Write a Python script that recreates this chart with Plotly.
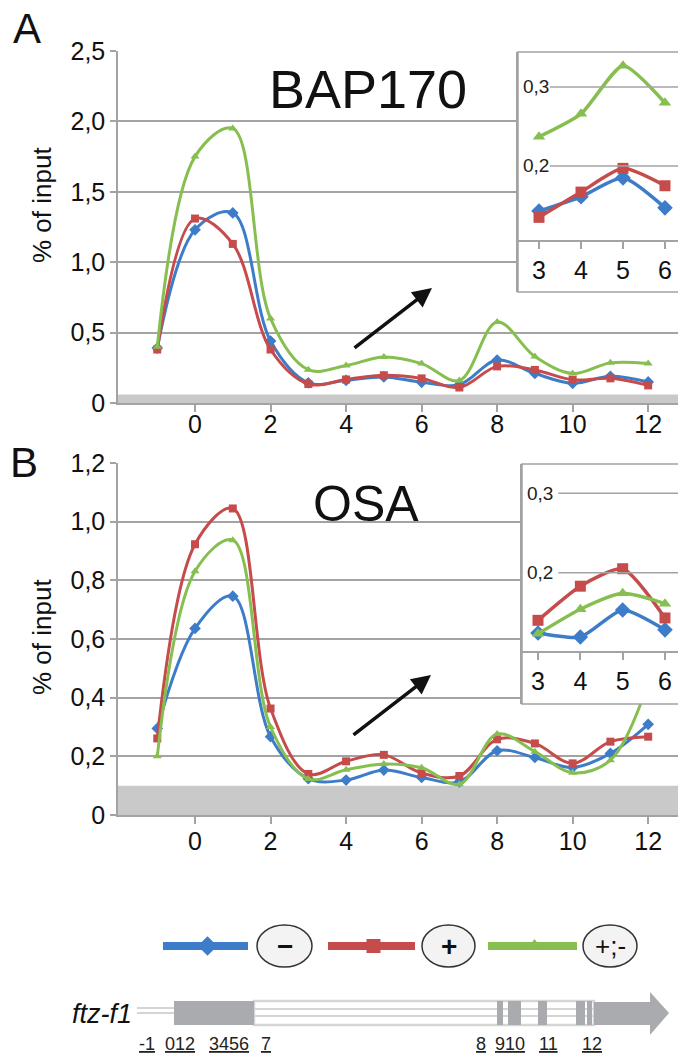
import plotly.graph_objects as go

# ---------------- data ----------------
positions = [-1, 0, 1, 2, 3, 4, 5, 6, 7, 8, 9, 10, 11, 12]

bap_minus = [0.39, 1.23, 1.35, 0.44, 0.143, 0.161, 0.185, 0.147, 0.13, 0.305, 0.21, 0.14, 0.19, 0.15]
bap_plus = [0.38, 1.31, 1.13, 0.38, 0.135, 0.167, 0.197, 0.175, 0.11, 0.26, 0.235, 0.165, 0.175, 0.125]
bap_both = [0.40, 1.75, 1.95, 0.60, 0.237, 0.266, 0.327, 0.28, 0.16, 0.575, 0.33, 0.21, 0.285, 0.28]

osa_minus = [0.295, 0.636, 0.746, 0.267, 0.124, 0.119, 0.153, 0.128, 0.113, 0.219, 0.196, 0.162, 0.21, 0.309]
osa_plus = [0.261, 0.923, 1.045, 0.363, 0.14, 0.183, 0.205, 0.143, 0.133, 0.258, 0.244, 0.176, 0.25, 0.267]
osa_both = [0.20, 0.831, 0.937, 0.30, 0.123, 0.154, 0.174, 0.161, 0.105, 0.276, 0.216, 0.144, 0.187, 0.45]

inset_positions = [3, 4, 5, 6]

bap_ticks = [0, 0.5, 1.0, 1.5, 2.0, 2.5]
bap_ticktext = ["0", "0,5", "1,0", "1,5", "2,0", "2,5"]
osa_ticks = [0, 0.2, 0.4, 0.6, 0.8, 1.0, 1.2]
osa_ticktext = ["0", "0,2", "0,4", "0,6", "0,8", "1,0", "1,2"]
x_ticks = [0, 2, 4, 6, 8, 10, 12]
inset_yticks = [0.2, 0.3]
inset_yticktext = ["0,2", "0,3"]

bap_background = 0.06
osa_background = 0.10

legend_labels = ["\u2212", "+", "+;-"]

# gene model (pixel coordinates of the drawing)
exon_starts = [174, 497, 508, 538, 576, 587]
exon_ends = [254, 503, 521, 547, 585, 592]
arrow_start, arrow_neck, arrow_tip = 594, 650, 669
primer_labels = ["-1", "012", "3456", "7", "8", "9", "10", "11", "12"]
primer_x = [147, 180, 229, 266, 481, 500, 515, 548, 592]

# ---------------- styling ----------------
W, H = 678, 1061
BLUE, RED, GREEN = "#3d7cc9", "#c64b4b", "#86bf50"
GRID = "#a3a3a3"
BAND = "#c9c9c9"
FONT = "Liberation Sans, Arial, sans-serif"


def px(x):
    return x / W


def py(y):
    return 1 - y / H


series_styles = [
    (BLUE, "diamond", 9),
    (RED, "square", 8),
    (GREEN, "triangle-up", 8),
]

fig = go.Figure()

panels = [
    ("x", "y", "x2", "y2", [bap_minus, bap_plus, bap_both]),
    ("x3", "y3", "x4", "y4", [osa_minus, osa_plus, osa_both]),
]

for xa, ya, xi, yi, series in panels:
    for vals, (col, sym, ms) in zip(series, series_styles):
        fig.add_trace(go.Scatter(
            x=positions, y=vals, xaxis=xa, yaxis=ya, mode="lines+markers",
            line=dict(color=col, width=3, shape="spline", smoothing=1.0),
            marker=dict(symbol=sym, size=ms, color=col),
            showlegend=False, hoverinfo="skip"))
    for vals, (col, sym, ms) in zip(series, series_styles):
        sub = [vals[positions.index(p)] for p in inset_positions]
        fig.add_trace(go.Scatter(
            x=inset_positions, y=sub, xaxis=xi, yaxis=yi, mode="lines+markers",
            line=dict(color=col, width=3.5, shape="spline", smoothing=0.6),
            marker=dict(symbol=sym, size=ms + 3, color=col),
            showlegend=False, hoverinfo="skip"))

# legend samples (auxiliary axis in pixel units)
legend_lines = [(163, 248), (328, 415), (488, 577)]
legend_ellipses = [(257, 312), (422, 475), (583, 637)]
LEG_Y = 946
for (x0, x1), (col, sym, ms) in zip(legend_lines, series_styles):
    fig.add_trace(go.Scatter(
        x=[x0, x1], y=[LEG_Y, LEG_Y], xaxis="x5", yaxis="y5", mode="lines",
        line=dict(color=col, width=8), showlegend=False, hoverinfo="skip"))
    fig.add_trace(go.Scatter(
        x=[(x0 + x1) / 2 + 2], y=[LEG_Y], xaxis="x5", yaxis="y5", mode="markers",
        marker=dict(symbol=sym, size=ms + 6, color=col),
        showlegend=False, hoverinfo="skip"))

axis_common = dict(showline=True, linecolor=GRID, linewidth=1.5, zeroline=False,
                   ticks="outside", tickcolor=GRID, tickwidth=1.5, automargin=False,
                   tickfont=dict(family=FONT, size=25, color="#111"))

lay = dict(
    width=W, height=H, margin=dict(l=0, r=0, t=0, b=0, pad=0, autoexpand=False),
    paper_bgcolor="white", plot_bgcolor="white",
    font=dict(family=FONT, color="#111"),
    xaxis=dict(domain=[px(118), 1], range=[-2.04, 12.79], tickvals=x_ticks,
               ticklen=7, showgrid=False, anchor="y", ticklabelstandoff=-9, **axis_common),
    yaxis=dict(domain=[py(403), py(51)], range=[0, 2.5], tickvals=bap_ticks,
               ticktext=bap_ticktext, ticklen=6, showgrid=True, gridcolor=GRID,
               gridwidth=1.5, anchor="x", **axis_common),
    xaxis3=dict(domain=[px(118), 1], range=[-2.04, 12.79], tickvals=x_ticks,
                ticklen=7, showgrid=False, anchor="y3", ticklabelstandoff=-4, **axis_common),
    yaxis3=dict(domain=[py(815), py(463)], range=[0, 1.2], tickvals=osa_ticks,
                ticktext=osa_ticktext, ticklen=6, showgrid=True, gridcolor=GRID,
                gridwidth=1.5, anchor="x3", **axis_common),
    xaxis2=dict(domain=[px(518), 1], range=[2.5, 6.31], tickvals=inset_positions,
                ticklen=7, showgrid=False, anchor="free", position=py(241),
                **axis_common),
    yaxis2=dict(domain=[py(292), py(52)], range=[0.0405, 0.3443], showticklabels=False,
                ticks="", showline=True, linecolor=GRID, linewidth=1.5, showgrid=False,
                zeroline=False, anchor="x2", automargin=False),
    xaxis4=dict(domain=[px(522), 1], range=[2.622, 6.307], tickvals=inset_positions,
                ticklen=7, showgrid=False, anchor="free", position=py(652),
                **axis_common),
    yaxis4=dict(domain=[py(704), py(464)], range=[0.0346, 0.3369], showticklabels=False,
                ticks="", showline=True, linecolor=GRID, linewidth=1.5, showgrid=False,
                zeroline=False, anchor="x4", automargin=False),
    xaxis5=dict(domain=[0, 1], range=[0, W], visible=False, anchor="y5", automargin=False),
    yaxis5=dict(domain=[0, py(880)], range=[H, 880], visible=False, anchor="x5", automargin=False),
)
fig.update_layout(**lay)

shapes = []
ann = []
# background bands
for xa, ya, band in (("x", "y", bap_background), ("x3", "y3", osa_background)):
    shapes.append(dict(type="rect", xref=xa + " domain", yref=ya, x0=0, x1=1, y0=0, y1=band,
                       fillcolor=BAND, line=dict(width=0), layer="below"))
# inset gridlines, tick labels and frames
for xi, yi, gx0, xr1, frame in (("x2", "y2", 3.26, 6.31, (518, 52, 292)),
                                ("x4", "y4", 3.48, 6.307, (522, 464, 704))):
    fx, fy0, fy1 = frame
    for t, lab in zip(inset_yticks, inset_yticktext):
        shapes.append(dict(type="line", xref=xi, yref=yi, x0=gx0, x1=xr1, y0=t, y1=t,
                           line=dict(color=GRID, width=1.5), layer="above"))
        ann.append(dict(text=lab, x=px(fx + 3), y=t, xref="paper", yref=yi,
                        xanchor="left", yanchor="middle", showarrow=False,
                        font=dict(family=FONT, size=19, color="#222")))
    shapes.append(dict(type="rect", xref="paper", yref="paper", x0=px(fx), x1=px(W + 3),
                       y0=py(fy1), y1=py(fy0), line=dict(color=GRID, width=1.5)))

# legend ellipses
for x0, x1 in legend_ellipses:
    shapes.append(dict(type="circle", xref="x5", yref="y5", x0=x0, x1=x1,
                       y0=LEG_Y - 21, y1=LEG_Y + 21, fillcolor="#f3f3f3",
                       line=dict(color="#333", width=1.5)))

# gene model
INTRON = "#d5d5d5"
EXON = "#a9abae"
shapes.append(dict(type="rect", xref="x5", yref="y5", x0=exon_ends[0], x1=arrow_start,
                   y0=1001, y1=1025, line=dict(color=INTRON, width=2.5)))
for yy in (1009, 1016):
    shapes.append(dict(type="line", xref="x5", yref="y5", x0=exon_ends[0], x1=arrow_start,
                       y0=yy, y1=yy, line=dict(color=INTRON, width=2)))
for yy in (1008, 1013):
    shapes.append(dict(type="line", xref="x5", yref="y5", x0=137, x1=exon_starts[0],
                       y0=yy, y1=yy, line=dict(color=INTRON, width=2)))
for s, e in zip(exon_starts, exon_ends):
    shapes.append(dict(type="rect", xref="x5", yref="y5", x0=s, x1=e, y0=1001, y1=1025,
                       fillcolor=EXON, line=dict(width=0)))
path = (f"M{arrow_start},1002 L{arrow_neck},1002 L{arrow_neck},992 L{arrow_tip},1013 "
        f"L{arrow_neck},1035 L{arrow_neck},1025 L{arrow_start},1025 Z")
shapes.append(dict(type="path", xref="x5", yref="y5", path=path, fillcolor=EXON,
                   line=dict(width=0)))

fig.update_layout(shapes=shapes)

C = dict(xanchor="center", yanchor="middle", showarrow=False)
ann.append(dict(text="A", x=px(27), y=py(28), xref="paper", yref="paper",
                font=dict(size=42, color="#111"), **C))
ann.append(dict(text="B", x=px(24), y=py(462), xref="paper", yref="paper",
                font=dict(size=42, color="#111"), **C))
ann.append(dict(text="BAP170", x=px(368), y=py(89), xref="paper", yref="paper",
                font=dict(size=54, color="#111"), **C))
ann.append(dict(text="OSA", x=px(366), y=py(504), xref="paper", yref="paper",
                font=dict(size=50, color="#111"), **C))
for yc in (205, 637):
    ann.append(dict(text="% of input", x=px(42), y=py(yc), xref="paper", yref="paper",
                    textangle=-90, font=dict(size=26, color="#111"), **C))
# arrows
for (tx, ty, hx, hy) in ((353, 349, 432, 288), (352, 736, 431, 675)):
    ann.append(dict(text="", x=px(hx), y=py(hy), xref="paper", yref="paper",
                    xanchor="center", yanchor="middle",
                    ax=tx - hx, ay=ty - hy, showarrow=True, arrowhead=2, arrowsize=1.1,
                    arrowwidth=3.5, arrowcolor="#111"))
# legend labels
for (x0, x1), lab in zip(legend_ellipses, legend_labels):
    ann.append(dict(text=f"<b>{lab}</b>" if lab != "+;-" else lab, x=(x0 + x1) / 2,
                    y=LEG_Y, xref="x5", yref="y5",
                    font=dict(size=28 if lab != "+;-" else 26, color="#111"), **C))
# gene label and primers
ann.append(dict(text="<i>ftz-f1</i>", x=102, y=1014, xref="x5", yref="y5",
                font=dict(size=27, color="#111"), **C))
for lab, xx in zip(primer_labels, primer_x):
    ann.append(dict(text=f'<span style="text-decoration:underline">{lab}</span>', x=xx, y=1044,
                    xref="x5", yref="y5", font=dict(size=18, color="#222"), **C))
fig.update_layout(annotations=ann)

fig.write_html("out.html", config={"displayModeBar": False},
               post_script="document.body.style.margin='0';document.body.style.overflow='hidden';")
